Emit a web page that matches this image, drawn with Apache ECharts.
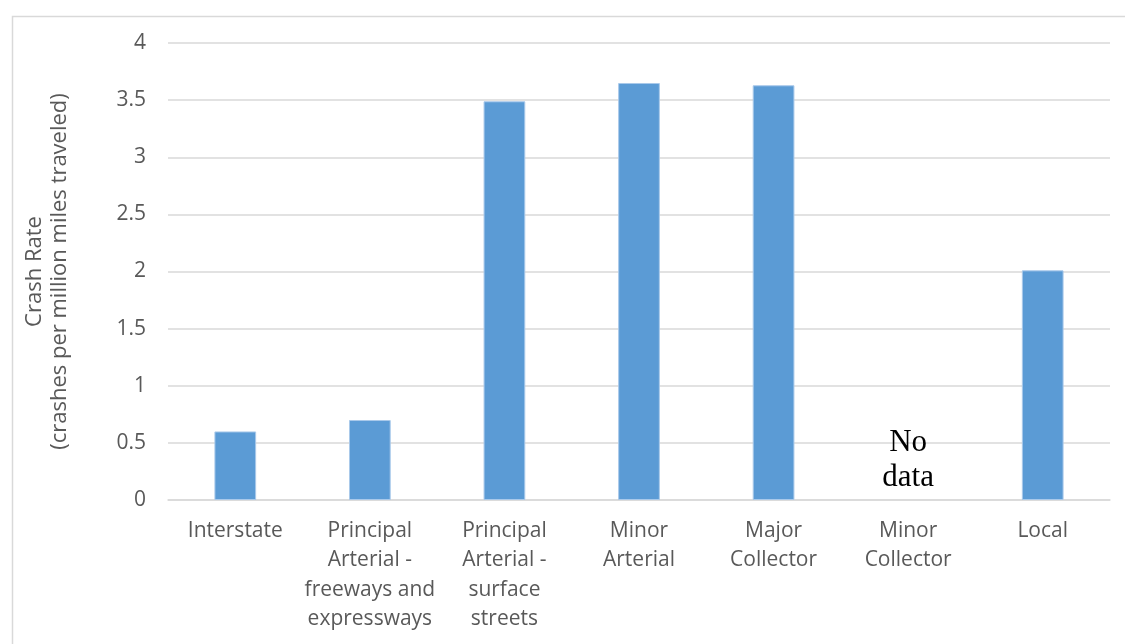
<!DOCTYPE html>
<html>
<head>
<meta charset="utf-8">
<script src="https://cdn.jsdelivr.net/npm/echarts@6/dist/echarts.min.js"></script>
<style>html,body{margin:0;padding:0;background:#fff;}#c{width:1125px;height:644px;}</style>
</head>
<body>
<div id="c"></div>
<script>
const categories = ['Interstate', 'Principal\nArterial -\nfreeways and\nexpressways', 'Principal\nArterial -\nsurface\nstreets', 'Minor\nArterial', 'Major\nCollector', 'Minor\nCollector', 'Local'];
const crashRates = [0.6, 0.7, 3.49, 3.65, 3.63, null, 2.01];
const yTicks = [0, 0.5, 1, 1.5, 2, 2.5, 3, 3.5, 4];
const noDataNote = { category: 'Minor\nCollector', value: 0.35, text: 'No\ndata' };

const chart = echarts.init(document.getElementById('c'), null, { renderer: 'canvas' });
const font = '"Open Sans", Lato, sans-serif';
chart.setOption({
  animation: false,
  backgroundColor: '#fff',
  graphic: [{
    type: 'rect', left: 10, top: 14, silent: true,
    shape: { width: 1130, height: 650 },
    style: { fill: 'none', stroke: '#d9d9d9', lineWidth: 1.5 }
  }],
  grid: { left: 168, right: 15, top: 43, bottom: 144 },
  xAxis: {
    type: 'category', data: categories,
    axisLine: { lineStyle: { color: '#d9d9d9', width: 1.5 } },
    axisTick: { show: false },
    axisLabel: { color: '#595959', fontSize: 21, fontFamily: font, lineHeight: 29.5, margin: 16, interval: 0 }
  },
  yAxis: {
    type: 'value', min: 0, max: yTicks[yTicks.length - 1], interval: 0.5,
    name: 'Crash Rate\n(crashes per million miles traveled)',
    nameLocation: 'middle', nameGap: 96, nameRotate: 90,
    nameTextStyle: { color: '#595959', fontSize: 22, fontFamily: font, lineHeight: 25 },
    axisLine: { show: false }, axisTick: { show: false },
    axisLabel: { color: '#595959', fontSize: 21, fontFamily: font, margin: 22 },
    splitLine: { lineStyle: { color: '#d9d9d9', width: 1.5 } }
  },
  series: [{
    type: 'bar', data: crashRates, barWidth: '31%',
    itemStyle: { color: '#5b9bd5', borderColor: '#a9c9ea', borderWidth: 1 },
    markPoint: {
      symbol: 'rect', symbolSize: 1, itemStyle: { color: 'rgba(0,0,0,0)' },
      label: { show: true, formatter: noDataNote.text, color: '#000', fontSize: 31, lineHeight: 35,
               fontFamily: '"Liberation Serif", "DejaVu Serif", serif', position: 'inside' },
      data: [{ coord: [noDataNote.category, noDataNote.value] }]
    }
  }]
});
</script>
</body>
</html>
